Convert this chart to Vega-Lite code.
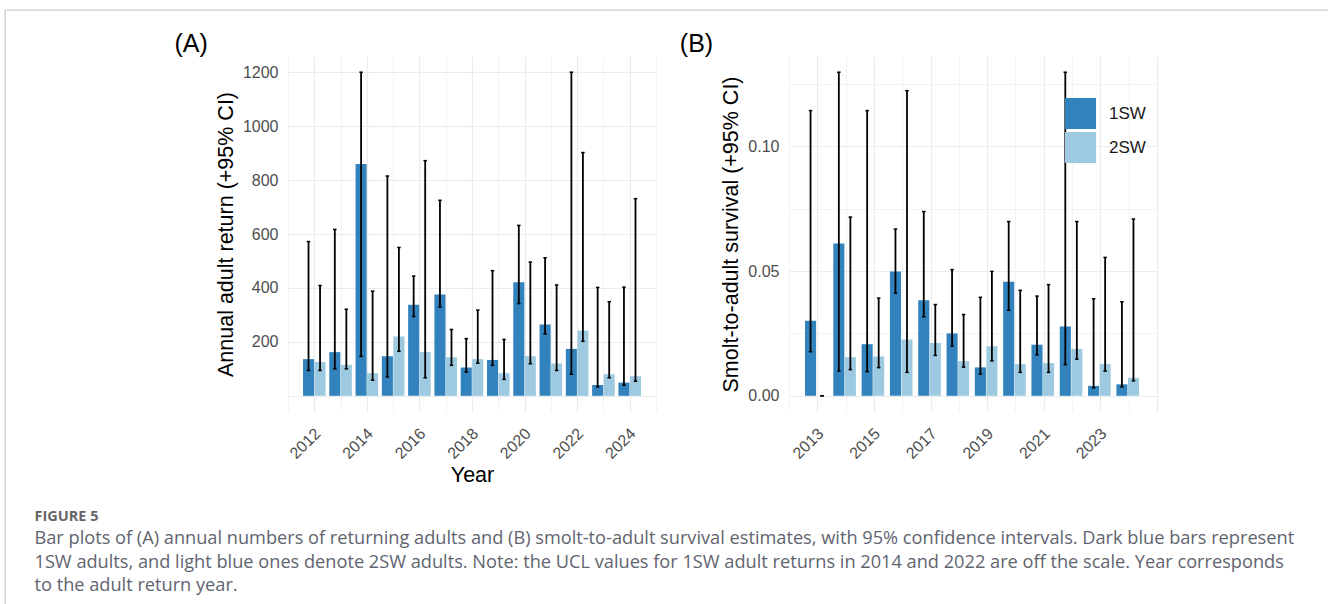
{
  "$schema": "https://vega.github.io/schema/vega-lite/v6.json",
  "background": "white",
  "padding": {"left": 4, "top": 9, "right": 0, "bottom": 0},
  "config": {
    "view": {"stroke": null},
    "font": "Liberation Sans",
    "axis": {
      "labelFont": "Liberation Sans",
      "titleFont": "Liberation Sans",
      "labelFontSize": 16,
      "labelColor": "#4d4d4d",
      "titleFontSize": 21.5,
      "titleFontWeight": "normal",
      "titleColor": "#000000",
      "ticks": false,
      "domain": false,
      "gridColor": "#ebebeb"
    }
  },
  "datasets": {
    "returns": [
      {"year": 2012, "age": "1SW", "est": 136, "lcl": 94, "ucl": 572},
      {"year": 2012, "age": "2SW", "est": 125, "lcl": 94, "ucl": 409},
      {"year": 2013, "age": "1SW", "est": 162, "lcl": 100, "ucl": 617},
      {"year": 2013, "age": "2SW", "est": 115, "lcl": 100, "ucl": 321},
      {"year": 2014, "age": "1SW", "est": 860, "lcl": 146, "ucl": 1200},
      {"year": 2014, "age": "2SW", "est": 84, "lcl": 58, "ucl": 388},
      {"year": 2015, "age": "1SW", "est": 147, "lcl": 70, "ucl": 815},
      {"year": 2015, "age": "2SW", "est": 220, "lcl": 165, "ucl": 550},
      {"year": 2016, "age": "1SW", "est": 338, "lcl": 294, "ucl": 444},
      {"year": 2016, "age": "2SW", "est": 162, "lcl": 67, "ucl": 872},
      {"year": 2017, "age": "1SW", "est": 376, "lcl": 329, "ucl": 725},
      {"year": 2017, "age": "2SW", "est": 143, "lcl": 113, "ucl": 246},
      {"year": 2018, "age": "1SW", "est": 105, "lcl": 88, "ucl": 212},
      {"year": 2018, "age": "2SW", "est": 136, "lcl": 121, "ucl": 318},
      {"year": 2019, "age": "1SW", "est": 133, "lcl": 113, "ucl": 464},
      {"year": 2019, "age": "2SW", "est": 84, "lcl": 61, "ucl": 209},
      {"year": 2020, "age": "1SW", "est": 421, "lcl": 342, "ucl": 632},
      {"year": 2020, "age": "2SW", "est": 147, "lcl": 119, "ucl": 496},
      {"year": 2021, "age": "1SW", "est": 264, "lcl": 229, "ucl": 512},
      {"year": 2021, "age": "2SW", "est": 120, "lcl": 94, "ucl": 411},
      {"year": 2022, "age": "1SW", "est": 174, "lcl": 80, "ucl": 1200},
      {"year": 2022, "age": "2SW", "est": 242, "lcl": 202, "ucl": 902},
      {"year": 2023, "age": "1SW", "est": 40, "lcl": 33, "ucl": 402},
      {"year": 2023, "age": "2SW", "est": 80, "lcl": 67, "ucl": 349},
      {"year": 2024, "age": "1SW", "est": 49, "lcl": 39, "ucl": 403},
      {"year": 2024, "age": "2SW", "est": 73, "lcl": 54, "ucl": 731}
    ],
    "survival": [
      {"year": 2013, "age": "1SW", "est": 0.0301, "lcl": 0.0177, "ucl": 0.1144},
      {"year": 2013, "age": "2SW", "est": 0, "lcl": 0, "ucl": 0},
      {"year": 2014, "age": "1SW", "est": 0.0611, "lcl": 0.0099, "ucl": 0.1298},
      {"year": 2014, "age": "2SW", "est": 0.0155, "lcl": 0.0105, "ucl": 0.0717},
      {"year": 2015, "age": "1SW", "est": 0.0207, "lcl": 0.0097, "ucl": 0.1144},
      {"year": 2015, "age": "2SW", "est": 0.0158, "lcl": 0.0113, "ucl": 0.0392},
      {"year": 2016, "age": "1SW", "est": 0.0499, "lcl": 0.0412, "ucl": 0.0669},
      {"year": 2016, "age": "2SW", "est": 0.0226, "lcl": 0.0094, "ucl": 0.1224},
      {"year": 2017, "age": "1SW", "est": 0.0383, "lcl": 0.0317, "ucl": 0.0739},
      {"year": 2017, "age": "2SW", "est": 0.0212, "lcl": 0.0162, "ucl": 0.0366},
      {"year": 2018, "age": "1SW", "est": 0.025, "lcl": 0.0199, "ucl": 0.0506},
      {"year": 2018, "age": "2SW", "est": 0.0139, "lcl": 0.0115, "ucl": 0.0326},
      {"year": 2019, "age": "1SW", "est": 0.0114, "lcl": 0.0087, "ucl": 0.0395},
      {"year": 2019, "age": "2SW", "est": 0.0199, "lcl": 0.014, "ucl": 0.0499},
      {"year": 2020, "age": "1SW", "est": 0.0457, "lcl": 0.0343, "ucl": 0.0699},
      {"year": 2020, "age": "2SW", "est": 0.0127, "lcl": 0.0094, "ucl": 0.0423},
      {"year": 2021, "age": "1SW", "est": 0.0205, "lcl": 0.0164, "ucl": 0.04},
      {"year": 2021, "age": "2SW", "est": 0.0131, "lcl": 0.0094, "ucl": 0.0446},
      {"year": 2022, "age": "1SW", "est": 0.0278, "lcl": 0.0125, "ucl": 0.1298},
      {"year": 2022, "age": "2SW", "est": 0.0188, "lcl": 0.0147, "ucl": 0.0699},
      {"year": 2023, "age": "1SW", "est": 0.004, "lcl": 0.0032, "ucl": 0.0389},
      {"year": 2023, "age": "2SW", "est": 0.0127, "lcl": 0.0099, "ucl": 0.0555},
      {"year": 2024, "age": "1SW", "est": 0.0046, "lcl": 0.0036, "ucl": 0.0377},
      {"year": 2024, "age": "2SW", "est": 0.0072, "lcl": 0.006, "ucl": 0.0709}
    ]
  },
  "spacing": 0,
  "hconcat": [
    {
      "width": 0.01,
      "height": 595,
      "view": {"stroke": "#cccccc", "strokeWidth": 1.3},
      "data": {"values": []},
      "mark": "text",
      "encoding": {}
    },
    {
      "spacing": 21,
      "vconcat": [
        {
          "width": 1323,
          "height": 0.01,
          "view": {"stroke": "#cccccc", "strokeWidth": 1.3},
          "data": {"values": []},
          "mark": "text",
          "encoding": {}
        },
        {
          "spacing": 23,
          "resolve": {"scale": {"color": "independent"}},
          "title": {
            "text": "FIGURE 5",
            "subtitle": [
              "Bar plots of (A) annual numbers of returning adults and (B) smolt-to-adult survival estimates, with 95% confidence intervals. Dark blue bars represent",
              "1SW adults, and light blue ones denote 2SW adults. Note: the UCL values for 1SW adult returns in 2014 and 2022 are off the scale. Year corresponds",
              "to the adult return year."
            ],
            "orient": "bottom",
            "anchor": "start",
            "frame": "bounds",
            "dx": 27.5,
            "offset": 24,
            "font": "Open Sans",
            "fontSize": 14.5,
            "fontWeight": "bold",
            "color": "#666666",
            "subtitleFont": "Open Sans",
            "subtitleFontSize": 18.2,
            "subtitleColor": "#5f6470",
            "subtitleLineHeight": 23.3,
            "subtitlePadding": 6
          },
          "hconcat": [
            {
              "width": 143.5,
              "height": 0.01,
              "data": {"values": []},
              "mark": "text",
              "encoding": {}
            },
            {
              "width": 368,
              "height": 356,
              "title": {"text": "(A)", "anchor": "start", "frame": "bounds", "dx": -41, "font": "Liberation Sans", "fontSize": 25, "fontWeight": "normal", "color": "#000000", "offset": -1},
              "data": {"name": "returns"},
              "resolve": {"scale": {"x": "independent"}},
              "layer": [
                {
                  "mark": {"type": "rule", "opacity": 0},
                  "encoding": {
                    "x": {
                      "field": "year", "type": "quantitative",
                      "scale": {"domain": [2011, 2025], "nice": false, "zero": false},
                      "axis": {
                        "orient": "bottom",
                        "values": [2011, 2012, 2013, 2014, 2015, 2016, 2017, 2018, 2019, 2020, 2021, 2022, 2023, 2024, 2025],
                        "grid": true, "labels": false, "ticks": false, "domain": false, "title": null,
                        "gridColor": "#ebebeb",
                        "gridWidth": {"condition": {"test": "datum.value % 2 == 0", "value": 1.1}, "value": 0.6}
                      }
                    }
                  }
                },
                {
                  "encoding": {
                    "x": {
                      "field": "year", "type": "ordinal",
                      "scale": {"paddingInner": 0, "paddingOuter": 0.5},
                      "axis": {
                        "orient": "bottom", "grid": false, "labelAngle": -45, "labelAlign": "right", "labelBaseline": "top",
                        "labelExpr": "datum.value % 2 == 0 ? datum.label : ''", "labelOverlap": false, "labelPadding": 13, "labelOffset": -2,
                        "title": "Year", "titlePadding": 3
                      }
                    },
                    "xOffset": {"field": "age", "type": "nominal", "scale": {"paddingOuter": 0.16, "paddingInner": 0.04}}
                  },
                  "layer": [
                    {
                      "mark": {"type": "bar"},
                      "encoding": {
                        "y": {
                          "field": "est", "type": "quantitative",
                          "scale": {"domain": [-60, 1260], "nice": false, "zero": false},
                          "axis": {
                            "values": [0, 100, 200, 300, 400, 500, 600, 700, 800, 900, 1000, 1100, 1200],
                            "format": "d",
                            "labelExpr": "datum.value > 0 && datum.value % 200 == 0 ? datum.label : ''",
                            "grid": true,
                            "gridWidth": {"condition": {"test": "datum.value % 200 == 0", "value": 1.1}, "value": 0.6},
                            "labelPadding": 10,
                            "title": "Annual adult return (+95% CI)",
                            "titlePadding": 5
                          }
                        },
                        "y2": {"datum": 0},
                        "color": {"field": "age", "type": "nominal", "scale": {"domain": ["1SW", "2SW"], "range": ["#3182bd", "#9ecae1"]}, "legend": null}
                      }
                    },
                    {
                      "mark": {"type": "rule", "color": "#000000", "strokeWidth": 1.8},
                      "encoding": {"y": {"field": "lcl", "type": "quantitative"}, "y2": {"field": "ucl"}}
                    },
                    {
                      "mark": {"type": "tick", "orient": "horizontal", "size": 3.5, "thickness": 1.5, "color": "#000000", "opacity": 1},
                      "encoding": {"y": {"field": "ucl", "type": "quantitative"}}
                    },
                    {
                      "mark": {"type": "tick", "orient": "horizontal", "size": 3.5, "thickness": 1.5, "color": "#000000", "opacity": 1},
                      "encoding": {"y": {"field": "lcl", "type": "quantitative"}}
                    }
                  ]
                }
              ]
            },
            {
              "width": 368,
              "height": 356,
              "title": {"text": "(B)", "anchor": "start", "frame": "bounds", "dx": -41, "font": "Liberation Sans", "fontSize": 25, "fontWeight": "normal", "color": "#000000", "offset": -1},
              "data": {"name": "survival"},
              "resolve": {"scale": {"x": "independent"}},
              "layer": [
                {
                  "mark": {"type": "rule", "opacity": 0},
                  "encoding": {
                    "x": {
                      "field": "year", "type": "quantitative",
                      "scale": {"domain": [2012, 2025], "nice": false, "zero": false},
                      "axis": {
                        "orient": "bottom",
                        "values": [2012, 2013, 2014, 2015, 2016, 2017, 2018, 2019, 2020, 2021, 2022, 2023, 2024, 2025],
                        "grid": true, "labels": false, "ticks": false, "domain": false, "title": null,
                        "gridColor": "#ebebeb",
                        "gridWidth": {"condition": {"test": "datum.value % 2 == 1", "value": 1.1}, "value": 0.6}
                      }
                    }
                  }
                },
                {
                  "encoding": {
                    "x": {
                      "field": "year", "type": "ordinal",
                      "scale": {"paddingInner": 0, "paddingOuter": 0.5},
                      "axis": {
                        "orient": "bottom", "grid": false, "labelAngle": -45, "labelAlign": "right", "labelBaseline": "top",
                        "labelExpr": "datum.value % 2 == 1 ? datum.label : ''", "labelOverlap": false, "labelPadding": 13, "labelOffset": -2,
                        "title": null
                      }
                    },
                    "xOffset": {"field": "age", "type": "nominal", "scale": {"paddingOuter": 0.16, "paddingInner": 0.04}}
                  },
                  "layer": [
                    {
                      "mark": {"type": "bar"},
                      "encoding": {
                        "y": {
                          "field": "est", "type": "quantitative",
                          "scale": {"domain": [-0.0065, 0.1363], "nice": false, "zero": false},
                          "axis": {
                            "values": [0, 0.025, 0.05, 0.075, 0.1, 0.125],
                            "labelExpr": "abs(datum.value * 20 - round(datum.value * 20)) < 0.001 ? format(datum.value, '.2f') : ''",
                            "grid": true,
                            "gridWidth": {"condition": {"test": "abs(datum.value * 20 - round(datum.value * 20)) < 0.001", "value": 1.1}, "value": 0.6},
                            "labelPadding": 10,
                            "title": "Smolt-to-adult survival (+95% CI)",
                            "titlePadding": 5
                          }
                        },
                        "y2": {"datum": 0},
                        "color": {
                          "field": "age", "type": "nominal",
                          "scale": {"domain": ["1SW", "2SW"], "range": ["#3182bd", "#9ecae1"]},
                          "legend": {
                            "orient": "none", "legendX": 276, "legendY": 42, "title": null,
                            "symbolType": "square", "symbolSize": 961, "symbolStrokeWidth": 0, "symbolOpacity": 1,
                            "labelFont": "Liberation Sans", "labelFontSize": 17, "labelColor": "#1a1a1a",
                            "labelOffset": 13, "rowPadding": 3
                          }
                        }
                      }
                    },
                    {
                      "mark": {"type": "rule", "color": "#000000", "strokeWidth": 1.8},
                      "encoding": {"y": {"field": "lcl", "type": "quantitative"}, "y2": {"field": "ucl"}}
                    },
                    {
                      "mark": {"type": "tick", "orient": "horizontal", "size": 3.5, "thickness": 1.5, "color": "#000000", "opacity": 1},
                      "encoding": {"y": {"field": "ucl", "type": "quantitative"}}
                    },
                    {
                      "mark": {"type": "tick", "orient": "horizontal", "size": 3.5, "thickness": 1.5, "color": "#000000", "opacity": 1},
                      "encoding": {"y": {"field": "lcl", "type": "quantitative"}}
                    }
                  ]
                }
              ]
            }
          ]
        }
      ]
    }
  ]
}
